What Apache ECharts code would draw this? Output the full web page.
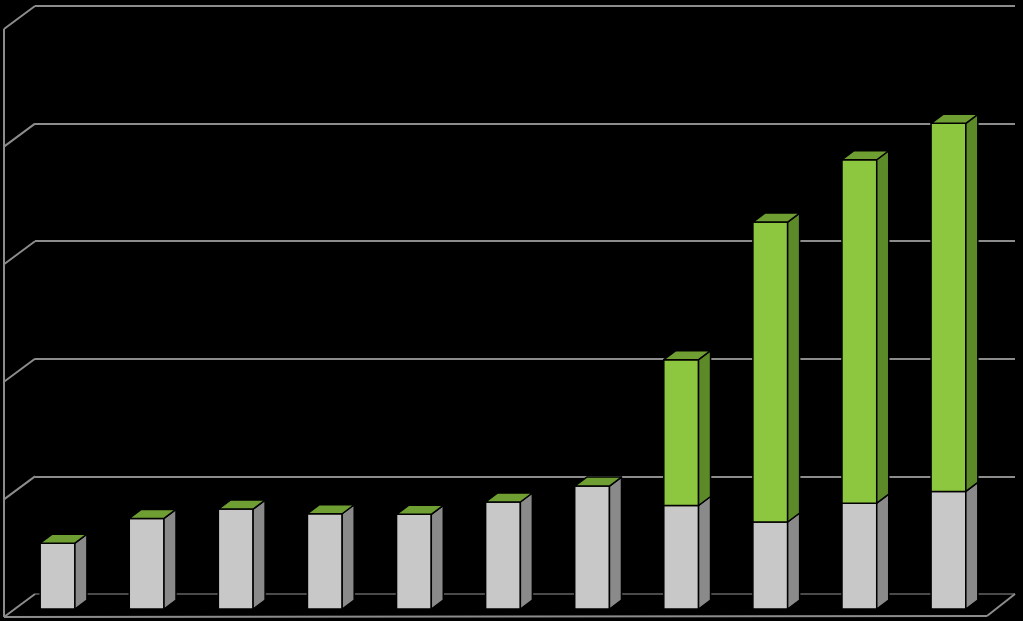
<!DOCTYPE html>
<html>
<head>
<meta charset="utf-8">
<script src="https://cdn.jsdelivr.net/npm/echarts@6/dist/echarts.min.js"></script>
<style>
html,body{margin:0;padding:0;background:#000;}
#chart{width:1023px;height:621px;}
</style>
</head>
<body>
<div id="chart"></div>
<script>
const categories = ['1','2','3','4','5','6','7','8','9','10','11'];
const grayValues = [0.56, 0.77, 0.85, 0.81, 0.805, 0.91, 1.045, 0.88, 0.74, 0.90, 1.00];
const greenValues = [0, 0, 0, 0, 0, 0, 0, 1.24, 2.55, 2.92, 3.13];
const yTicks = [0, 1, 2, 3, 4, 5];

// drawing geometry (pixels)
const OX = -22, OY = 15;      // bar front-plane offset from back wall
const DX = 12, DY = -9;       // bar depth
const BAR_RATIO = 0.39;

function segData(bases, heights) {
  return categories.map((c, i) => [i, bases[i], bases[i] + heights[i]]);
}
const zeros = categories.map(() => 0);
const grayData = segData(zeros, grayValues);
const greenData = segData(grayValues, greenValues);

function makeBar(colors, withTop) {
  return function (params, api) {
    const i = api.value(0), b = api.value(1), t = api.value(2);
    const pb = api.coord([i, b]), pt = api.coord([i, t]);
    const band = api.size([1, 0])[0];
    const w = band * BAR_RATIO;
    const cx = pb[0] + OX, yb = pb[1] + OY, yt = pt[1] + OY;
    const xl = cx - w / 2, xr = cx + w / 2;
    const stroke = {stroke: '#000', lineWidth: 1.5, lineJoin: 'round'};
    const children = [];
    if (yb - yt > 0.1) {
      children.push({type: 'rect', shape: {x: xl, y: yt, width: w, height: yb - yt},
        style: Object.assign({fill: colors.front}, stroke)});
      children.push({type: 'polygon', shape: {points: [[xr, yt], [xr + DX, yt + DY], [xr + DX, yb + DY], [xr, yb]]},
        style: Object.assign({fill: colors.side}, stroke)});
    }
    if (withTop) {
      children.push({type: 'polygon', shape: {points: [[xl, yt], [xl + DX, yt + DY], [xr + DX, yt + DY], [xr, yt]]},
        style: Object.assign({fill: colors.top}, stroke)});
    }
    return {type: 'group', children: children};
  };
}

function wallRender(params, api) {
  const n = categories.length;
  const band = api.size([1, 0])[0];
  const lineStyle = {stroke: '#8c8c8c', lineWidth: 2};
  const children = [];
  const p0 = api.coord([0, 0]);
  const pN = api.coord([n - 1, 0]);
  const leftX = p0[0] - band / 2;
  const rightX = pN[0] + band / 2;
  const topY = api.coord([0, yTicks[yTicks.length - 1]])[1];
  const baseY = p0[1];
  // left wall slanted lines
  yTicks.forEach(v => {
    const y = api.coord([0, v])[1];
    children.push({type: 'line', shape: {x1: leftX - 31, y1: y + 23, x2: leftX, y2: y}, style: lineStyle});
  });
  // left wall front vertical edge
  children.push({type: 'line', shape: {x1: leftX - 31, y1: topY + 23, x2: leftX - 31, y2: baseY + 23}, style: lineStyle});
  // floor front edge
  children.push({type: 'line', shape: {x1: leftX - 31, y1: baseY + 23, x2: rightX - 28, y2: baseY + 22}, style: lineStyle});
  // floor right edge
  children.push({type: 'line', shape: {x1: rightX - 28, y1: baseY + 22, x2: rightX, y2: baseY}, style: lineStyle});
  return {type: 'group', children: children};
}

const chart = echarts.init(document.getElementById('chart'));
chart.setOption({
  backgroundColor: '#000',
  animation: false,
  grid: {left: 35, right: 8, top: 6, bottom: 27, containLabel: false},
  xAxis: {
    type: 'category', data: categories,
    axisLine: {show: false}, axisTick: {show: false}, axisLabel: {show: false},
    splitLine: {show: false}
  },
  yAxis: {
    type: 'value', min: 0, max: 5, interval: 1,
    axisLine: {show: false}, axisTick: {show: false}, axisLabel: {show: false},
    splitLine: {show: true, lineStyle: {color: ['#4a4a4a', '#8c8c8c', '#8c8c8c', '#8c8c8c', '#8c8c8c', '#8c8c8c'], width: 2}}
  },
  series: [
    {type: 'custom', name: 'walls', clip: false, data: [[0]], renderItem: wallRender, z: 1, silent: true},
    {type: 'custom', name: 'gray', clip: false, data: grayData, encode: {x: 0, y: 2},
      renderItem: makeBar({front: '#c8c8c8', side: '#8a8a8a', top: '#c8c8c8'}, false), z: 2},
    {type: 'custom', name: 'green', clip: false, data: greenData, encode: {x: 0, y: 2},
      renderItem: makeBar({front: '#8dc63f', side: '#5d8a29', top: '#6f9f33'}, true), z: 3}
  ]
});
</script>
</body>
</html>
